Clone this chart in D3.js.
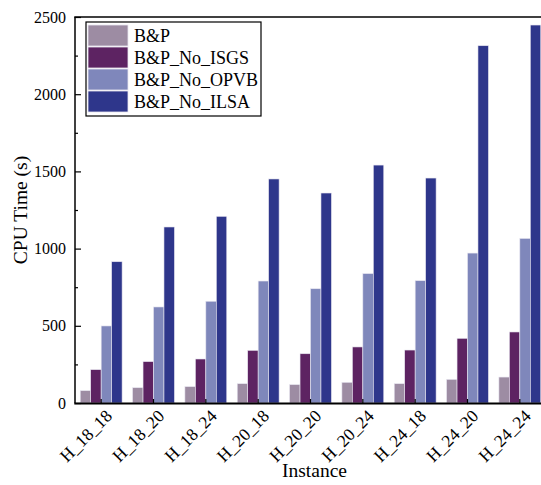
<!DOCTYPE html>
<html>
<head>
<meta charset="utf-8">
<script src="https://cdn.jsdelivr.net/npm/d3@7"></script>
<style>
  body { margin: 0; background: #fff; }
  svg text { font-family: "Liberation Serif", "Times New Roman", serif; fill: #000; }
</style>
</head>
<body>
<div id="chart"></div>
<script>
// Instances on the x axis
const instances = ["H_18_18", "H_18_20", "H_18_24", "H_20_18", "H_20_20", "H_20_24", "H_24_18", "H_24_20", "H_24_24"];
const seriesNames = ["B&P", "B&P_No_ISGS", "B&P_No_OPVB", "B&P_No_ILSA"];
const seriesColors = ["#9d8ca3", "#5d2362", "#7f87bb", "#2e368b"];

// CPU time (s) per series
const bp = [80, 99, 106, 125, 119, 134, 125, 153, 168];
const noIsgs = [216, 268, 285, 341, 319, 363, 343, 419, 460];
const noOpvb = [499, 622, 659, 790, 740, 838, 792, 971, 1066];
const noIlsa = [915, 1140, 1209, 1451, 1360, 1541, 1457, 2314, 2448];

const yTicks = [0, 500, 1000, 1500, 2000, 2500];

const width = 541, height = 485;
const margin = { top: 17, left: 75, bottom: 82 };
const plotRight = 546; // the frame runs off the right edge

const allSeries = [bp, noIsgs, noOpvb, noIlsa];
const data = instances.map((name, i) => ({
  name,
  values: allSeries.map((s, j) => ({ key: seriesNames[j], value: s[i], color: seriesColors[j] })),
}));

const svg = d3.select("#chart")
  .append("svg")
  .attr("width", width)
  .attr("height", height);

const x = d3.scaleBand()
  .domain(instances)
  .range([margin.left, plotRight])
  .paddingInner(0.2)
  .paddingOuter(0.1);

const xInner = d3.scaleBand()
  .domain(seriesNames)
  .range([0, x.bandwidth()]);

const y = d3.scaleLinear()
  .domain([0, 2500])
  .range([height - margin.bottom, margin.top]);

// bars
svg.append("g")
  .selectAll("g")
  .data(data)
  .enter()
  .append("g")
  .attr("transform", (d) => `translate(${x(d.name)},0)`)
  .selectAll("rect")
  .data((d) => d.values)
  .enter()
  .append("rect")
  .attr("x", (d) => xInner(d.key))
  .attr("y", (d) => y(d.value))
  .attr("width", xInner.bandwidth())
  .attr("height", (d) => y(0) - y(d.value))
  .attr("fill", (d) => d.color)
  .attr("stroke", "#e8e6f0")
  .attr("stroke-width", 0.6);

// y axis, ticks pointing inward
const yAxis = svg.append("g")
  .attr("transform", `translate(${margin.left},0)`)
  .call(d3.axisRight(y).tickValues(yTicks).tickSize(6).tickFormat(""));
yAxis.select(".domain").remove();

// minor ticks
svg.append("g")
  .attr("transform", `translate(${margin.left},0)`)
  .call(d3.axisRight(y).tickValues(d3.range(250, 2500, 500)).tickSize(3).tickFormat(""))
  .call((g) => g.select(".domain").remove());

svg.selectAll(".tick line").attr("stroke", "#000").attr("stroke-width", 1.2);

// y tick labels
svg.append("g")
  .selectAll("text")
  .data(yTicks)
  .enter()
  .append("text")
  .attr("x", margin.left - 9)
  .attr("y", (d) => y(d))
  .attr("dy", "0.35em")
  .attr("text-anchor", "end")
  .attr("font-size", "16px")
  .text((d) => d);

// x ticks pointing up
svg.append("g")
  .selectAll("line")
  .data(instances)
  .enter()
  .append("line")
  .attr("x1", (d) => x(d) + x.bandwidth() / 2)
  .attr("x2", (d) => x(d) + x.bandwidth() / 2)
  .attr("y1", y(0))
  .attr("y2", y(0) - 4)
  .attr("stroke", "#000")
  .attr("stroke-width", 1.2);

// x tick labels
svg.append("g")
  .selectAll("text")
  .data(instances)
  .enter()
  .append("text")
  .attr("transform", (d) => `translate(${x(d) + x.bandwidth() / 2 + 12},${y(0) + 14}) rotate(-45)`)
  .attr("text-anchor", "end")
  .attr("font-size", "17.5px")
  .text((d) => d);

// frame lines
svg.append("line")
  .attr("x1", margin.left).attr("x2", margin.left)
  .attr("y1", margin.top).attr("y2", y(0))
  .attr("stroke", "#000").attr("stroke-width", 1.5);
svg.append("line")
  .attr("x1", margin.left - 0.75).attr("x2", plotRight)
  .attr("y1", margin.top).attr("y2", margin.top)
  .attr("stroke", "#000").attr("stroke-width", 1.5);
svg.append("line")
  .attr("x1", margin.left - 0.75).attr("x2", plotRight)
  .attr("y1", y(0) + 0.5).attr("y2", y(0) + 0.5)
  .attr("stroke", "#000").attr("stroke-width", 2.2);

// axis titles
svg.append("text")
  .attr("x", (margin.left + plotRight) / 2 + 4)
  .attr("y", 477)
  .attr("text-anchor", "middle")
  .attr("font-size", "19.5px")
  .text("Instance");

svg.append("text")
  .attr("transform", `translate(27,${(margin.top + y(0)) / 2}) rotate(-90)`)
  .attr("text-anchor", "middle")
  .attr("font-size", "19.5px")
  .text("CPU Time (s)");

// legend
const legend = svg.append("g").attr("transform", "translate(86,22)");
legend.append("rect")
  .attr("width", 175)
  .attr("height", 94)
  .attr("fill", "#fff")
  .attr("stroke", "#000")
  .attr("stroke-width", 1.2);

const rows = legend.selectAll("g")
  .data(seriesNames)
  .enter()
  .append("g")
  .attr("transform", (d, i) => `translate(2,${3 + i * 22})`);

rows.append("rect")
  .attr("width", 40)
  .attr("height", 21)
  .attr("fill", (d, i) => seriesColors[i])
  .attr("stroke", "#e8e6f0")
  .attr("stroke-width", 0.8);

rows.append("text")
  .attr("x", 46)
  .attr("y", 11)
  .attr("dy", "0.35em")
  .attr("font-size", "18px")
  .text((d) => d);
</script>
</body>
</html>
